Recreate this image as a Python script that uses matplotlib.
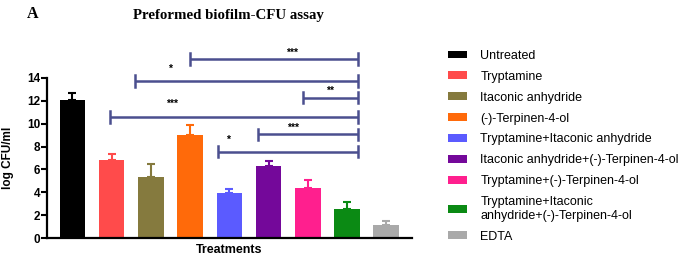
import matplotlib
matplotlib.use("Agg")
import matplotlib.pyplot as plt
from matplotlib.patches import Patch

plt.rcParams['font.family'] = ['Liberation Sans', 'DejaVu Sans']

# ---------------------------------------------------------------
treatments = ["Untreated", "Tryptamine", "Itaconic anhydride", "(-)-Terpinen-4-ol",
              "Tryptamine+Itaconic anhydride", "Itaconic anhydride+(-)-Terpinen-4-ol",
              "Tryptamine+(-)-Terpinen-4-ol",
              "Tryptamine+Itaconic\nanhydride+(-)-Terpinen-4-ol", "EDTA"]
log_cfu = [12.1, 6.8, 5.35, 9.05, 3.9, 6.3, 4.35, 2.5, 1.18]
sd = [0.6, 0.55, 1.1, 0.85, 0.42, 0.42, 0.74, 0.62, 0.3]
colors = ["#000000", "#ff4b4b", "#857a3e", "#ff6a0a", "#5b5bff",
          "#74089a", "#ff1f8e", "#0b8a14", "#a9a9a9"]

# significance brackets: left, right, height, label, label x, label y
brk_left = [3.0, 1.59, 5.88, 0.96, 4.73, 3.71]
brk_right = [7.28, 7.28, 7.28, 7.28, 7.28, 7.28]
brk_y = [15.66, 13.74, 12.27, 10.6, 9.07, 7.55]
brk_label = ["***", "*", "**", "***", "***", "*"]
lab_x = [5.6, 2.49, 6.57, 2.54, 5.62, 3.97]
lab_y = [16.2, 14.8, 12.85, 11.7, 9.65, 8.6]
#----------------------------------------------------------------

fig = plt.figure(figsize=(6.85, 2.6), dpi=100)
ax = fig.add_axes([0.0686, 0.0846, 0.533, 0.7694])

x = list(range(len(log_cfu)))
ax.bar(x, log_cfu, width=0.65, color=colors, zorder=2)
for xi, v, e, c in zip(x, log_cfu, sd, colors):
    ax.errorbar(xi, v, yerr=[[0], [e]], fmt='none', ecolor=c,
                elinewidth=1.5, capsize=3.2, capthick=1.5, zorder=1)

bc = "#4b4f8f"
for l, r, yy, t, tx, ty in zip(brk_left, brk_right, brk_y, brk_label, lab_x, lab_y):
    ax.plot([l, r], [yy, yy], color=bc, lw=1.8, solid_capstyle='butt')
    ax.plot([l, l], [yy - 0.5, yy + 0.5], color=bc, lw=1.8)
    ax.plot([r, r], [yy - 0.5, yy + 0.5], color=bc, lw=1.8)
    ax.text(tx, ty, t, ha='center', va='center', fontsize=7.5, fontweight='bold')

ax.set_xlim(-0.65, 8.66)
ax.set_ylim(0, 17.5)
ax.set_yticks(range(0, 15, 2))
ax.set_xticks([])
for lbl in ax.get_yticklabels():
    lbl.set_fontweight('bold')
ax.tick_params(axis='y', labelsize=8.5, width=1.5, length=4, pad=1)
ax.spines['top'].set_visible(False)
ax.spines['right'].set_visible(False)
ax.spines['left'].set_bounds(0, 14)
ax.spines['left'].set_linewidth(1.6)
ax.spines['bottom'].set_linewidth(1.6)

ax.set_ylabel("log CFU/ml", fontsize=8.5, fontweight='bold')
ax.yaxis.set_label_coords(-0.09, 7 / 17.5)
ax.set_xlabel("Treatments", fontsize=9, fontweight='bold', labelpad=4)

fig.text(0.334, 0.94, "Preformed biofilm-CFU assay", ha='center', va='center',
         fontsize=10.7, fontweight='bold', family='Liberation Serif')
fig.text(0.048, 0.945, "A", ha='center', va='center', fontsize=11.5,
         fontweight='bold', family='Liberation Serif')

handles = [Patch(facecolor=c, edgecolor='none') for c in colors]
fig.legend(handles, treatments, loc='upper left', bbox_to_anchor=(0.654, 0.808),
           frameon=False, fontsize=9.0, handlelength=1.5, handleheight=0.6,
           handletextpad=1.1, labelspacing=0.71, borderaxespad=0, borderpad=0)

fig.savefig("out.png", dpi=100)
